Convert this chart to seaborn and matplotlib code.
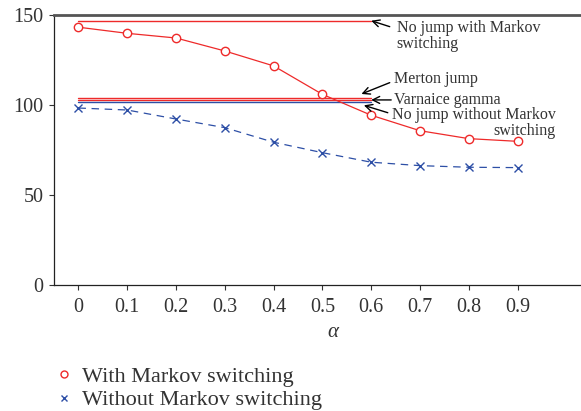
import matplotlib
matplotlib.use("Agg")
import matplotlib.pyplot as plt
import seaborn as sns
from matplotlib.lines import Line2D

# values
alphas = [0, 0.1, 0.2, 0.3, 0.4, 0.5, 0.6, 0.7, 0.8, 0.9]
with_markov = [143.2, 139.8, 137.2, 130.0, 121.7, 105.9, 94.3, 85.7, 81.3, 79.8]
without_markov = [98.3, 97.2, 92.2, 87.4, 79.3, 73.5, 68.2, 66.3, 65.4, 65.2]
x_labels = ["0", "0.1", "0.2", "0.3", "0.4", "0.5", "0.6", "0.7", "0.8", "0.9"]

# constant benchmark prices (drawn from alpha = 0 to 0.6)
ref_names = ["No jump with Markov\nswitching", "Merton jump", "Varnaice gamma",
             "No jump without Markov\nswitching"]
ref_values = [146.8, 104.1, 102.8, 101.5]
ref_span = [0, 0.6]

red = "#ee2a2a"
blue = "#2d4fa6"
ref_colors = [red, red, red, blue]

sns.set_style("ticks")
plt.rcParams["font.family"] = ["Liberation Serif", "DejaVu Serif"]

fig = plt.figure(figsize=(5.81, 4.11), dpi=100)
ax = fig.add_axes([0.093, 0.3066, 0.907, 0.657])

# reference lines
for v, c in zip(ref_values, ref_colors):
    sns.lineplot(x=ref_span, y=[v, v], ax=ax, color=c, lw=1.0)

sns.lineplot(x=alphas, y=with_markov, ax=ax, color=red, lw=0.9, marker="o",
             markersize=6, markerfacecolor="white", markeredgecolor=red,
             markeredgewidth=1.0)
sns.lineplot(x=alphas, y=without_markov, ax=ax, color=blue, lw=0.9, marker="x",
             markersize=5.5, markeredgecolor=blue, markeredgewidth=1.0,
             linestyle=(0, (6, 4.5)))

ax.set_xlim(-0.05, 1.03)
ax.set_ylim(0, 150)
ax.set_xticks(alphas)
ax.set_xticklabels(x_labels)
ax.set_yticks([0, 50, 100, 150])
ax.tick_params(axis="both", labelsize=14.5, colors="#333333", length=3.6, width=0.8)
ax.tick_params(axis="x", pad=6)
ax.tick_params(axis="y", pad=4)
for lab in ax.get_xticklabels() + ax.get_yticklabels():
    lab.set_color("#333333")

ax.spines["right"].set_visible(False)
ax.spines["top"].set_color("#555555")
ax.spines["top"].set_linewidth(2.0)
ax.spines["left"].set_color("#222222")
ax.spines["bottom"].set_color("#222222")
ax.spines["left"].set_linewidth(0.9)
ax.spines["bottom"].set_linewidth(0.9)

ax.set_xlabel("α", fontsize=15, style="italic", color="#333333")
ax.xaxis.set_label_coords(0.53, -0.14)
ax.set_ylabel("")

# annotations with arrows
arrow = dict(arrowstyle="->, head_length=0.5, head_width=0.25", color="black",
             lw=1.0, shrinkA=0, shrinkB=0)
ax.text(0.652, 138.1, ref_names[0], fontsize=11.5, va="center", ha="left",
        color="#333333", linespacing=1.0)
ax.annotate("", xy=(ref_span[1], ref_values[0]), xytext=(0.638, 143.5),
            arrowprops=arrow)
ax.text(0.647, 114.4, ref_names[1], fontsize=11.5, va="center", ha="left",
        color="#333333")
ax.annotate("", xy=(0.58, 106.1), xytext=(0.638, 112.4), arrowprops=arrow)
ax.text(0.647, 102.8, ref_names[2], fontsize=11.5, va="center", ha="left",
        color="#333333")
ax.annotate("", xy=(ref_span[1], ref_values[2]), xytext=(0.641, 102.8),
            arrowprops=arrow)
ax.text(0.978, 90.1, ref_names[3], fontsize=11.5, va="center", ha="right",
        multialignment="right", color="#333333", linespacing=1.0)
ax.annotate("", xy=(0.585, 99.8), xytext=(0.634, 95.7), arrowprops=arrow)

handles = [
    Line2D([], [], ls="", marker="o", markersize=5, markerfacecolor="white",
           markeredgecolor=red, markeredgewidth=1.0),
    Line2D([], [], ls="", marker="x", markersize=5, markeredgecolor=blue,
           markeredgewidth=1.0),
]
fig.legend(handles, ["With Markov switching", "Without Markov switching"],
           loc="upper left", bbox_to_anchor=(0.094, 0.108), frameon=False,
           fontsize=16, handlelength=0.8, handletextpad=0.45,
           labelspacing=0.12, borderpad=0, borderaxespad=0,
           labelcolor="#333333")

fig.savefig("out.png", dpi=100)
